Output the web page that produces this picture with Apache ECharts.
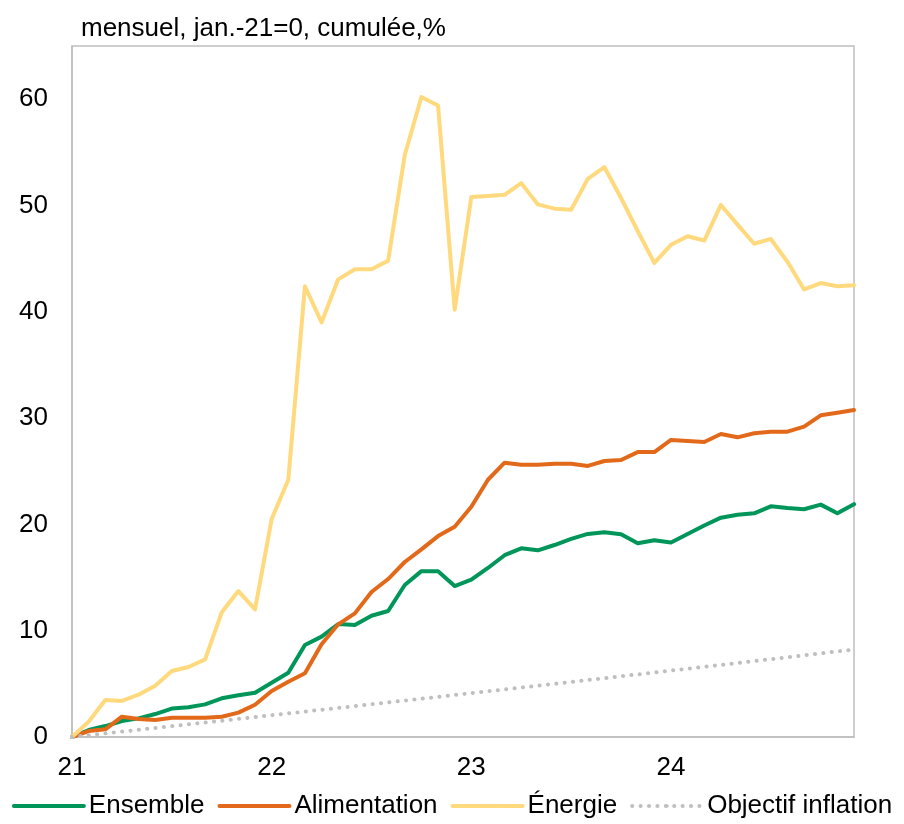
<!DOCTYPE html>
<html>
<head>
<meta charset="utf-8">
<script src="https://cdn.jsdelivr.net/npm/echarts@6/dist/echarts.min.js"></script>
<style>
  html, body { margin: 0; padding: 0; background: #fff; }
  #chart { width: 904px; height: 824px; }
</style>
</head>
<body>
<div id="chart"></div>
<script>
// Months from January 2021 to December 2024
const months = [
  '2021-01','2021-02','2021-03','2021-04','2021-05','2021-06','2021-07','2021-08','2021-09','2021-10','2021-11','2021-12',
  '2022-01','2022-02','2022-03','2022-04','2022-05','2022-06','2022-07','2022-08','2022-09','2022-10','2022-11','2022-12',
  '2023-01','2023-02','2023-03','2023-04','2023-05','2023-06','2023-07','2023-08','2023-09','2023-10','2023-11','2023-12',
  '2024-01','2024-02','2024-03','2024-04','2024-05','2024-06','2024-07','2024-08','2024-09','2024-10','2024-11','2024-12'
];
const yearTicks = ['21', '22', '23', '24'];

// Cumulative price change since Jan-21, %
const ensemble = [
  0, 0.66, 1.03, 1.5, 1.75, 2.16, 2.67, 2.79, 3.07, 3.64, 3.92, 4.17,
  5.11, 6.05, 8.65, 9.44, 10.63, 10.54, 11.41, 11.85, 14.3, 15.6, 15.6, 14.2,
  14.8, 15.9, 17.1, 17.75, 17.56, 18.06, 18.63, 19.1, 19.25, 19.07, 18.22, 18.5,
  18.3, 19.1, 19.9, 20.63, 20.9, 21.04, 21.7, 21.54, 21.42, 21.86, 21.04, 21.9
];
const alimentation = [
  0, 0.56, 0.72, 1.91, 1.69, 1.6, 1.82, 1.82, 1.82, 1.91, 2.29, 3.04,
  4.33, 5.2, 5.99, 8.72, 10.6, 11.63, 13.64, 14.86, 16.46, 17.65, 18.9, 19.78,
  21.66, 24.2, 25.8, 25.6, 25.6, 25.7, 25.7, 25.5, 25.96, 26.06, 26.8, 26.8,
  27.94, 27.85, 27.75, 28.5, 28.19, 28.57, 28.72, 28.72, 29.19, 30.26, 30.5, 30.76
];
const energie = [
  0, 1.44, 3.48, 3.39, 3.98, 4.83, 6.21, 6.58, 7.3, 11.73, 13.73, 12.0,
  20.5, 24.2, 42.4, 39.0, 43.05, 44.0, 44.0, 44.8, 54.75, 60.2, 59.4, 40.2,
  50.8, 50.9, 51.0, 52.1, 50.1, 49.7, 49.6, 52.5, 53.6, 50.7, 47.6, 44.6,
  46.3, 47.1, 46.7, 50.05, 48.2, 46.4, 46.85, 44.7, 42.1, 42.7, 42.4, 42.5
];
const objectif = [
  0, 0.17, 0.34, 0.51, 0.68, 0.85, 1.02, 1.19, 1.36, 1.53, 1.70, 1.87,
  2.05, 2.22, 2.39, 2.56, 2.73, 2.91, 3.08, 3.25, 3.43, 3.60, 3.77, 3.95,
  4.13, 4.30, 4.48, 4.65, 4.83, 5.00, 5.18, 5.36, 5.53, 5.71, 5.89, 6.07,
  6.25, 6.42, 6.60, 6.78, 6.96, 7.14, 7.32, 7.50, 7.68, 7.87, 8.05, 8.23
];

const FONT = 'Liberation Sans, Arial, sans-serif';
const TEXT = '#000';
const FRAME = '#bfbfbf';
const LINE_W = 4;

const chart = echarts.init(document.getElementById('chart'), null, { renderer: 'canvas' });

function lineSeries(name, data, color, type) {
  return {
    name: name,
    type: 'line',
    data: data,
    symbol: 'none',
    smooth: false,
    animation: false,
    lineStyle: { color: color, width: LINE_W, type: type || 'solid', cap: 'round', join: 'round' },
    itemStyle: { color: color }
  };
}

chart.setOption({
  animation: false,
  backgroundColor: '#fff',
  title: {
    text: 'mensuel, jan.-21=0, cumulée,%',
    left: 76,
    top: 11,
    textStyle: { fontFamily: FONT, fontSize: 26, fontWeight: 'normal', color: TEXT }
  },
  grid: {
    left: 72, right: 50, top: 46, bottom: 87,
    show: true, borderColor: FRAME, borderWidth: 1.5, backgroundColor: 'transparent'
  },
  legend: {
    bottom: 0,
    left: 'center',
    itemWidth: 70,
    itemHeight: 4,
    itemGap: 13,
    lineStyle: { width: LINE_W },
    itemStyle: { borderWidth: 0 },
    textStyle: { fontFamily: FONT, fontSize: 26, color: TEXT },
    data: ['Ensemble', 'Alimentation', 'Énergie', 'Objectif inflation']
  },
  xAxis: {
    type: 'category',
    data: months,
    boundaryGap: false,
    axisLine: { show: true, lineStyle: { color: FRAME, width: 1.5 } },
    axisTick: { show: false },
    splitLine: { show: false },
    axisLabel: {
      interval: function (i) { return i % 12 === 0; },
      formatter: function (v, i) { return yearTicks[Math.floor(i / 12)]; },
      margin: 18,
      fontFamily: FONT, fontSize: 26, color: TEXT
    }
  },
  yAxis: {
    type: 'value',
    min: 0, max: 65, interval: 10,
    axisLine: { show: true, lineStyle: { color: FRAME, width: 1.5 } },
    axisTick: { show: false },
    splitLine: { show: false },
    axisLabel: {
      showMaxLabel: false,
      margin: 24,
      fontFamily: FONT, fontSize: 26, color: TEXT
    }
  },
  series: [
    lineSeries('Ensemble', ensemble, '#00965a'),
    lineSeries('Alimentation', alimentation, '#e2691a'),
    lineSeries('Énergie', energie, '#ffd97d'),
    lineSeries('Objectif inflation', objectif, '#bfbfbf', [0.1, 8.3])
  ]
});
</script>
</body>
</html>
